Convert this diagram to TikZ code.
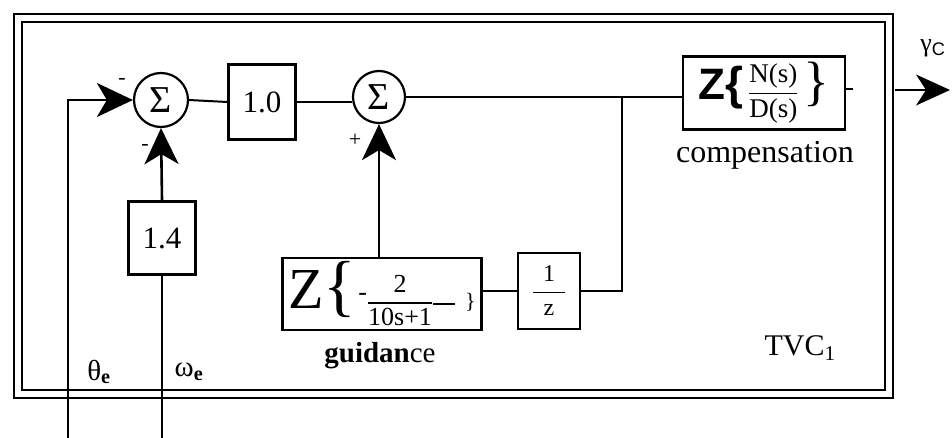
\documentclass[tikz,border=0pt]{standalone}
\usepackage{fontspec}
\setmainfont{Liberation Serif}
\setsansfont{Liberation Sans}
\usetikzlibrary{arrows.meta}
\newcommand{\fs}[1]{\fontsize{#1}{#1}\selectfont}
\newcommand{\myfrac}[2]{$\displaystyle{\mbox{#1}\above 1.6pt\mbox{#2}}$}
\begin{document}
\begin{tikzpicture}[x=1pt,y=-1pt,
  blk/.style={draw,line width=2.4pt,inner sep=0pt,font=\fs{31}},
  sumnode/.style={circle,draw,line width=2.2pt,minimum size=54pt,inner sep=0pt,font=\fs{38}},
  wire/.style={line width=2pt},
  bigarrow/.style={line width=2.6pt,-{Stealth[length=36pt,width=34pt,inset=10pt]}},
  outarrow/.style={line width=1.2pt,-{Stealth[length=34pt,width=31pt,inset=10pt]}},
  frame/.style={line width=2pt},
  lbl/.style={inner sep=0pt,font=\fs{30}},
  sgn/.style={inner sep=0pt,font=\fs{22}}]
\useasboundingbox (0,0) rectangle (952,438);
% frame
\draw[frame] (14,14) rectangle (893,398);
\draw[frame] (22,22) rectangle (885,390);
% nodes
\node[sumnode] (s1) at (161,100) {Σ};
\node[blk,minimum width=67pt,minimum height=75pt] (b10) at (262,102) {1.0};
\node[sumnode,minimum size=52pt] (s2) at (379,97) {Σ};
\node[blk,minimum width=162pt,minimum height=73pt] (comp) at (764,93)
  {{\sffamily\bfseries\fs{44}Z}{\sffamily\bfseries\fs{46}\{}\,{\fs{27}\myfrac{N(s)}{D(s)}}\,{\fs{54}\}}};
\node[blk,minimum width=67pt,minimum height=73pt] (b14) at (162,238) {1.4};
\node[blk,minimum width=199pt,minimum height=72pt] (guid) at (382,294)
  {{\fs{58}Z}{\fs{68}\{}\hspace{2pt}{\fs{26}\raisebox{8pt}{-}\myfrac{2}{10s+1}\raisebox{4pt}{\rule{22pt}{1.6pt}}}\hspace{10pt}{\fs{22}\}}};
\node[blk,minimum width=62pt,minimum height=76pt] (bz) at (549,291)
  {{\fs{24}\myfrac{\makebox[32pt]{1}}{z}}};
% coordinates
\coordinate (jn) at (622,97);
\coordinate (jz) at (622,291);
\coordinate (thb) at (68,438);
\coordinate (thc) at (68,100);
\coordinate (omb) at (162,438);
\coordinate (oa) at (895,90);
\coordinate (ob) at (950,90);
\coordinate (da) at (846,89);
\coordinate (db) at (853,89);
% connectors
\draw[wire] (s1.east) -- (b10.west);
\draw[wire] (b10.east) -- (b10.east -| s2.west);
\draw[wire] (s2.east) -- (s2.east -| comp.west);
\draw[wire] (jn) -- (jz) -- (bz.east);
\draw[wire] (bz.west) -- (bz.west -| guid.east);
\draw[bigarrow] (s2 |- guid.north) -- (s2.south);
\draw[bigarrow] (b14.north) -- (s1.south);
\draw[bigarrow] (thb) -- (thc) -- (s1.west);
\draw[wire] (omb) -- (b14.south);
\draw[line width=1.5pt] (da) -- (db);
\draw[outarrow] (oa) -- (ob);
% labels
\node[sgn] (m1) at (122,81) {-};
\node[sgn] (m2) at (145,147) {-};
\node[sgn] (p2) at (355,140) {+};
\node[lbl,font=\fs{29}] (th) at (99,372) {θ\textsubscript{\bfseries e}};
\node[lbl,font=\fs{29}] (om) at (189,372) {ω\textsubscript{\bfseries e}};
\node[lbl] (tvc) at (800,348) {TVC\textsubscript{1}};
\node[lbl,font=\fs{29}] (gtx) at (380,356) {{\bfseries guidan}ce};
\node[lbl,font=\fs{32}] (ctx) at (765,155) {compensation};
\node[lbl,font=\fs{26}] (gam) at (933,48) {γ\textsubscript{\sffamily C}};
\end{tikzpicture}
\end{document}
